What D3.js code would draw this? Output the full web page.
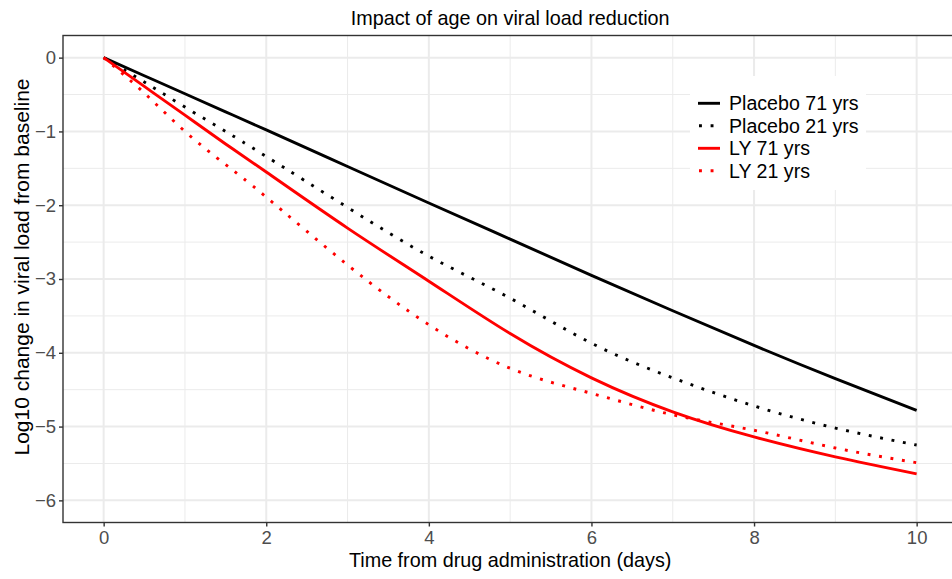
<!DOCTYPE html>
<html>
<head>
<meta charset="utf-8">
<script src="https://cdn.jsdelivr.net/npm/d3@7"></script>
<style>
  html, body { margin: 0; padding: 0; background: #fff; }
  svg { display: block; font-family: "Liberation Sans", Arial, sans-serif; }
</style>
</head>
<body>
<svg id="chart" width="952" height="579"></svg>
<script>
const times = [0, 0.5, 1, 1.5, 2, 3, 4, 5, 6, 7, 8, 9, 10];
const placebo71 = [0, -0.245, -0.49, -0.735, -0.98, -1.475, -1.97, -2.46, -2.95, -3.43, -3.90, -4.35, -4.78];
const placebo21 = [0, -0.33, -0.67, -1.0, -1.34, -2.03, -2.69, -3.26, -3.87, -4.34, -4.72, -5.02, -5.25];
const ly71 = [0, -0.39, -0.78, -1.17, -1.55, -2.31, -3.03, -3.74, -4.34, -4.80, -5.14, -5.41, -5.64];
const ly21 = [0, -0.48, -1.0, -1.45, -1.89, -2.81, -3.62, -4.21, -4.55, -4.84, -5.05, -5.29, -5.49];
const seriesNames = ["Placebo 71 yrs", "Placebo 21 yrs", "LY 71 yrs", "LY 21 yrs"];
const xTicks = [0, 2, 4, 6, 8, 10];
const yTicks = [0, -1, -2, -3, -4, -5, -6];
const titleText = "Impact of age on viral load reduction";
const xTitle = "Time from drug administration (days)";
const yTitle = "Log10 change in viral load from baseline";

const series = [
  { name: seriesNames[0], values: placebo71, color: "#000000", dotted: false },
  { name: seriesNames[1], values: placebo21, color: "#000000", dotted: true },
  { name: seriesNames[2], values: ly71, color: "#FF0000", dotted: false },
  { name: seriesNames[3], values: ly21, color: "#FF0000", dotted: true }
];

const svg = d3.select("#chart");
const panel = { left: 63, top: 35.5, right: 957.3, bottom: 522.5 };

const x = d3.scaleLinear().domain([-0.5, 10.5]).range([panel.left, panel.right]);
const y = d3.scaleLinear().domain([-6.3, 0.3]).range([panel.bottom, panel.top]);

svg.append("rect").attr("x", panel.left).attr("y", panel.top)
  .attr("width", panel.right - panel.left).attr("height", panel.bottom - panel.top)
  .attr("fill", "#fff");

const grid = svg.append("g");
d3.range(-5.5, 0.01, 1).forEach(v => {
  grid.append("line").attr("x1", panel.left).attr("x2", panel.right)
    .attr("y1", y(v)).attr("y2", y(v)).attr("stroke", "#EBEBEB").attr("stroke-width", 1);
});
d3.range(1, 10, 2).forEach(v => {
  grid.append("line").attr("y1", panel.top).attr("y2", panel.bottom)
    .attr("x1", x(v)).attr("x2", x(v)).attr("stroke", "#EBEBEB").attr("stroke-width", 1);
});
yTicks.forEach(v => {
  grid.append("line").attr("x1", panel.left).attr("x2", panel.right)
    .attr("y1", y(v)).attr("y2", y(v)).attr("stroke", "#EBEBEB").attr("stroke-width", 2);
});
xTicks.forEach(v => {
  grid.append("line").attr("y1", panel.top).attr("y2", panel.bottom)
    .attr("x1", x(v)).attr("x2", x(v)).attr("stroke", "#EBEBEB").attr("stroke-width", 2);
});

const line = d3.line().x((d, i) => x(times[i])).y(d => y(d)).curve(d3.curveNatural);
const lw = 2.9;
series.forEach(s => {
  svg.append("path").datum(s.values).attr("d", line)
    .attr("fill", "none").attr("stroke", s.color).attr("stroke-width", lw)
    .attr("stroke-dasharray", s.dotted ? `${lw} ${lw * 3}` : null);
});

svg.append("rect").attr("x", panel.left).attr("y", panel.top)
  .attr("width", panel.right - panel.left).attr("height", panel.bottom - panel.top)
  .attr("fill", "none").attr("stroke", "#333333").attr("stroke-width", 1.4);

const xAxis = d3.axisBottom(x).tickValues(xTicks).tickSize(4).tickPadding(4).tickFormat(d3.format("d"));
const gx = svg.append("g").attr("transform", `translate(0,${panel.bottom})`).call(xAxis);
gx.select(".domain").remove();
gx.selectAll(".tick line").attr("stroke", "#333333").attr("stroke-width", 1.4);
gx.selectAll(".tick text").attr("fill", "#4D4D4D").attr("font-size", 18.5)
  .attr("font-family", "Liberation Sans, Arial, sans-serif");

const yAxis = d3.axisLeft(y).tickValues(yTicks).tickSize(4).tickPadding(3)
  .tickFormat(d => d < 0 ? "\u2212" + Math.abs(d) : String(d));
const gy = svg.append("g").attr("transform", `translate(${panel.left},0)`).call(yAxis);
gy.select(".domain").remove();
gy.selectAll(".tick line").attr("stroke", "#333333").attr("stroke-width", 1.4);
gy.selectAll(".tick text").attr("fill", "#4D4D4D").attr("font-size", 18.5)
  .attr("font-family", "Liberation Sans, Arial, sans-serif");

svg.append("text").attr("x", (panel.left + panel.right) / 2).attr("y", 25)
  .attr("text-anchor", "middle").attr("font-size", 19.8).attr("fill", "#000").text(titleText);
svg.append("text").attr("x", (panel.left + panel.right) / 2).attr("y", 567)
  .attr("text-anchor", "middle").attr("font-size", 19.8).attr("fill", "#000").text(xTitle);
svg.append("text").attr("transform", `translate(28.5,267) rotate(-90)`)
  .attr("text-anchor", "middle").attr("font-size", 21).attr("fill", "#000").text(yTitle);

const lg = svg.append("g");
lg.append("rect").attr("x", 690).attr("y", 76).attr("width", 176).attr("height", 114).attr("fill", "#fff");
series.forEach((s, i) => {
  const cy = 103.3 + i * 22.5;
  lg.append("line").attr("x1", 698).attr("x2", 720).attr("y1", cy).attr("y2", cy)
    .attr("stroke", s.color).attr("stroke-width", lw)
    .attr("stroke-dasharray", s.dotted ? `${lw} ${lw * 3}` : null)
    .attr("stroke-dashoffset", s.dotted ? -1 : null);
  lg.append("text").attr("x", 729).attr("y", cy).attr("dy", "0.36em")
    .attr("font-size", 19.6).attr("fill", "#000").text(s.name);
});
</script>
</body>
</html>
